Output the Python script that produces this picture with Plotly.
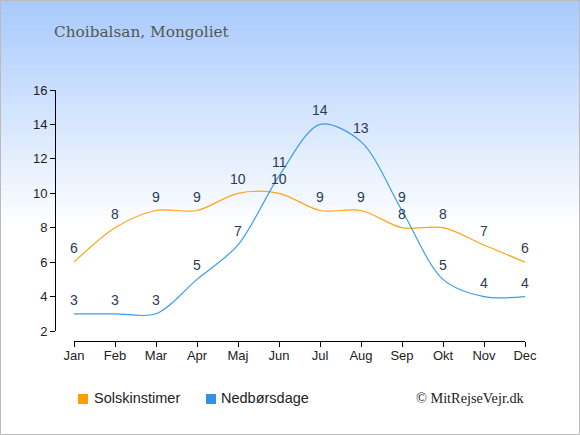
import plotly.graph_objects as go

months = ['Jan', 'Feb', 'Mar', 'Apr', 'Maj', 'Jun', 'Jul', 'Aug', 'Sep', 'Okt', 'Nov', 'Dec']
sun_hours = [6, 8, 9, 9, 10, 10, 9, 9, 8, 8, 7, 6]
rain_days = [3, 3, 3, 5, 7, 11, 14, 13, 9, 5, 4, 4]
y_ticks = [2, 4, 6, 8, 10, 12, 14, 16]

orange = '#FFA31A'
blue = '#3A9DEA'
label_col = '#2B3A55'

# plot area in pixels: x 55..525, y 90..341
L, R, T, B = 55, 55, 90, 94
W, H = 580, 435
pw, ph = W - L - R, H - T - B


def px_x(px):
    return (px - L) / pw


def px_y(py):
    return (H - B - py) / ph


fig = go.Figure()
x = list(range(len(months)))
fig.add_trace(go.Scatter(x=x, y=sun_hours, mode='lines', name='Solskinstimer',
                         line=dict(color=orange, width=1.2, shape='spline', smoothing=0.9),
                         showlegend=False, hoverinfo='skip'))
fig.add_trace(go.Scatter(x=x, y=rain_days, mode='lines', name='Nedbørsdage',
                         line=dict(color=blue, width=1.2, shape='spline', smoothing=0.9),
                         showlegend=False, hoverinfo='skip'))

annotations = []
for series in (sun_hours, rain_days):
    for i, v in enumerate(series):
        annotations.append(dict(x=i, y=v, text=str(v), showarrow=False, yshift=14,
                                font=dict(family='Liberation Sans, Arial', size=14, color=label_col)))


def label(px, py, text, anchor, family, size, color):
    return dict(x=px_x(px), y=px_y(py), xref='paper', yref='paper', xanchor=anchor,
                yanchor='middle', text=text, showarrow=False,
                font=dict(family=family, size=size, color=color))


# title, legend and credit
annotations.append(label(52, 32, 'Choibalsan, Mongoliet', 'left', 'DejaVu Serif', 15.3, '#555555'))
annotations.append(label(92, 398, 'Solskinstimer', 'left', 'Liberation Sans, Arial', 14.5, '#222222'))
annotations.append(label(219, 398, 'Nedbørsdage', 'left', 'Liberation Sans, Arial', 14.5, '#222222'))
annotations.append(label(527, 398, '© MitRejseVejr.dk', 'right', 'Liberation Serif', 14.3, '#222222'))

shapes = []
# background gradient, light blue at top fading to white
steps = 46
top_c = (168, 202, 252)
for k in range(steps):
    y0p, y1p = k * 5, (k + 1) * 5
    t = k / (steps - 1)
    c = tuple(round(a + (255 - a) * t) for a in top_c)
    shapes.append(dict(type='rect', xref='paper', yref='paper', layer='below',
                       x0=px_x(0), x1=px_x(W), y0=px_y(y1p), y1=px_y(y0p),
                       fillcolor='rgb(%d,%d,%d)' % c, line=dict(width=0)))
# legend squares
for sx, col in ((78, '#FF9E00'), (206, '#2E93E6')):
    shapes.append(dict(type='rect', xref='paper', yref='paper',
                       x0=px_x(sx), x1=px_x(sx + 10), y0=px_y(404), y1=px_y(394),
                       fillcolor=col, line=dict(width=0)))
# frame
shapes.append(dict(type='rect', xref='paper', yref='paper',
                   x0=px_x(0.5), x1=px_x(W - 0.5), y0=px_y(H - 0.5), y1=px_y(0.5),
                   line=dict(color='#BBBBBB', width=1)))

fig.update_layout(
    width=W, height=H,
    margin=dict(l=L, r=R, t=T, b=B),
    paper_bgcolor='white', plot_bgcolor='rgba(0,0,0,0)',
    annotations=annotations, shapes=shapes,
    xaxis=dict(domain=[px_x(74), 1], range=[0, 11], tickmode='array', tickvals=x, ticktext=months,
               anchor='free', position=0, showline=True, linecolor='black', linewidth=1,
               ticks='outside', ticklen=5, tickcolor='black', showgrid=False, zeroline=False,
               ticklabelstandoff=-3,
               tickfont=dict(family='Liberation Sans, Arial', size=13, color='#222222')),
    yaxis=dict(domain=[px_y(331), 1], range=[2, 16], tickvals=y_ticks,
               anchor='free', position=0, showline=True, linecolor='black', linewidth=1,
               ticks='outside', ticklen=5, tickcolor='black', showgrid=False, zeroline=False,
               tickfont=dict(family='Liberation Sans, Arial', size=13, color='#222222')),
)

fig.write_html('out.html', config={'displayModeBar': False},
               post_script="document.body.style.margin='0';")
